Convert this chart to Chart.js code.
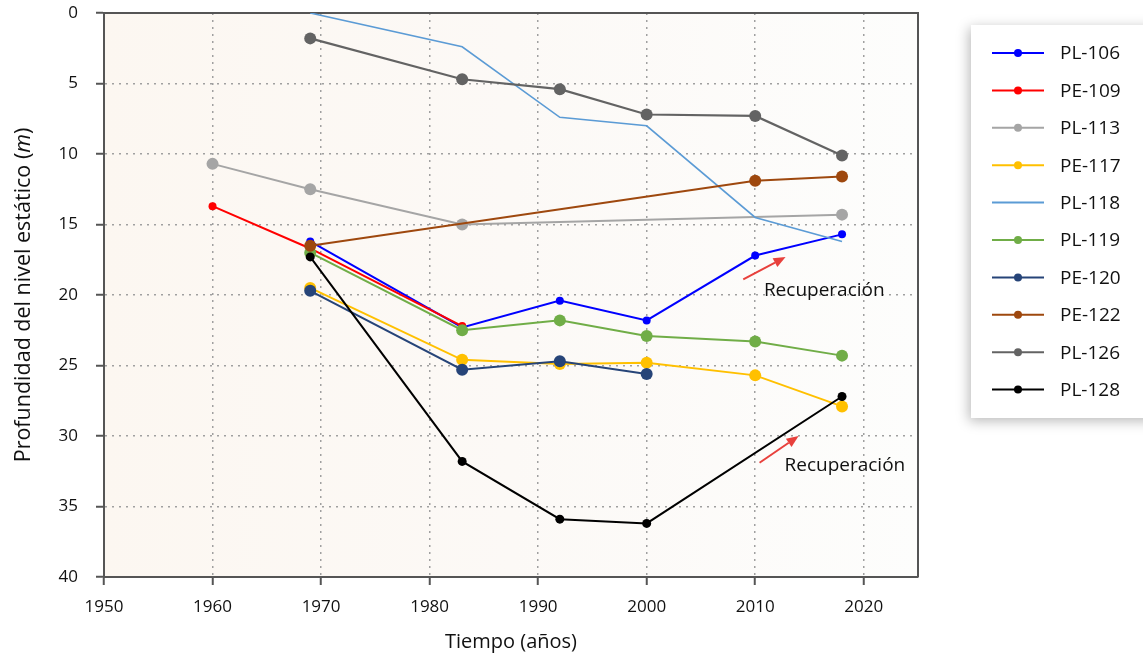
<!DOCTYPE html>
<html lang="es">
<head>
<meta charset="utf-8">
<title>Profundidad del nivel estático</title>
<script src="https://cdn.jsdelivr.net/npm/chart.js@4.4.1/dist/chart.umd.min.js"></script>
<style>
  html, body { margin: 0; padding: 0; background: #ffffff; }
  #contenedor { position: relative; width: 1143px; height: 661px; }
</style>
</head>
<body>
<div id="contenedor"><canvas id="grafico-nivel" width="1143" height="661"></canvas></div>
<script>
// Años de medición y profundidad del nivel estático (m) de cada pozo
var anios = [1960, 1969, 1983, 1992, 2000, 2010, 2018];
var pozos = ['PL-106', 'PE-109', 'PL-113', 'PE-117', 'PL-118', 'PL-119', 'PE-120', 'PE-122', 'PL-126', 'PL-128'];

var pl106 = [null, 16.2, 22.3, 20.4, 21.8, 17.2, 15.7];
var pe109 = [13.7, 16.7, 22.2, null, null, null, null];
var pl113 = [10.7, 12.5, 15.0, null, null, null, 14.3];
var pe117 = [null, 19.5, 24.6, 24.9, 24.8, 25.7, 27.9];
var pl118 = [null, 0.0, 2.4, 7.4, 8.0, 14.5, 16.2];
var pl119 = [null, 17.0, 22.5, 21.8, 22.9, 23.3, 24.3];
var pe120 = [null, 19.7, 25.3, 24.7, 25.6, null, null];
var pe122 = [null, 16.5, null, null, null, 11.9, 11.6];
var pl126 = [null, 1.8, 4.7, 5.4, 7.2, 7.3, 10.1];
var pl128 = [null, 17.3, 31.8, 35.9, 36.2, null, 27.2];

var series = [pl106, pe109, pl113, pe117, pl118, pl119, pe120, pe122, pl126, pl128];

// Ticks de los ejes
var ejeX = { min: 1950, max: 2025, paso: 10 };
var ejeY = { min: 0, max: 40, paso: 5 };

// Flechas de recuperación (año, profundidad)
var flechaDesde = [[2008.9, 18.9], [2010.4, 31.9]];
var flechaHasta = [[2012.8, 17.3], [2014.0, 30.0]];
var notaTexto = ['Recuperación', 'Recuperación'];
var notaPos = [[2010.8, 19.7], [2012.7, 32.1]];

var colores = ['#0000ff', '#ff0000', '#a5a5a5', '#ffc000', '#5b9bd5', '#70ad47', '#264478', '#9e480e', '#636363', '#000000'];
var radios = [4, 4, 6, 6, 0, 6, 6, 6, 6, 4.5];
var grosores = [2, 2, 2, 2, 1.6, 2, 2, 2, 2.2, 2];

var FUENTE = '"Open Sans", "Noto Sans", sans-serif';
var TEXTO = '#111111';

function puntos(valores) {
    var lista = [];
    for (var i = 0; i < anios.length; i++) {
        if (valores[i] !== null) lista.push({ x: anios[i], y: valores[i] });
    }
    return lista;
}

var datasets = [];
for (var i = 0; i < pozos.length; i++) {
    datasets.push({
        label: pozos[i],
        data: puntos(series[i]),
        borderColor: colores[i],
        backgroundColor: colores[i],
        pointBackgroundColor: colores[i],
        pointBorderColor: colores[i],
        pointBorderWidth: 0,
        pointRadius: radios[i],
        borderWidth: grosores[i],
        tension: 0,
        order: pozos.length - i   // los últimos quedan encima
    });
}

// Fondo del área de trazado
var fondoPlugin = {
    id: 'fondo',
    beforeDraw: function (chart) {
        var a = chart.chartArea;
        var ctx = chart.ctx;
        var g = ctx.createLinearGradient(a.left, 0, a.right, 0);
        g.addColorStop(0, '#fcf7f1');
        g.addColorStop(0.5, '#fcf9f6');
        g.addColorStop(1, '#fdfdfc');
        ctx.save();
        ctx.fillStyle = g;
        ctx.fillRect(a.left, a.top, a.right - a.left, a.bottom - a.top);
        ctx.restore();
    }
};

// Marco superior y derecho
var marcoPlugin = {
    id: 'marco',
    beforeDatasetsDraw: function (chart) {
        var a = chart.chartArea;
        var ctx = chart.ctx;
        ctx.save();
        ctx.strokeStyle = '#555555';
        ctx.lineWidth = 2;
        ctx.beginPath();
        ctx.moveTo(a.left, a.top);
        ctx.lineTo(a.right, a.top);
        ctx.lineTo(a.right, a.bottom);
        ctx.stroke();
        ctx.restore();
    }
};

// Flechas y textos de recuperación
var notasPlugin = {
    id: 'notas',
    afterDatasetsDraw: function (chart) {
        var ctx = chart.ctx;
        var sx = chart.scales.x, sy = chart.scales.y;
        ctx.save();
        for (var k = 0; k < flechaDesde.length; k++) {
            var x1 = sx.getPixelForValue(flechaDesde[k][0]);
            var y1 = sy.getPixelForValue(flechaDesde[k][1]);
            var x2 = sx.getPixelForValue(flechaHasta[k][0]);
            var y2 = sy.getPixelForValue(flechaHasta[k][1]);
            var ang = Math.atan2(y2 - y1, x2 - x1);
            var largo = 12, ancho = 5;
            var bx = x2 - largo * Math.cos(ang), by = y2 - largo * Math.sin(ang);
            ctx.strokeStyle = '#e8403c';
            ctx.fillStyle = '#e8403c';
            ctx.lineWidth = 2;
            ctx.beginPath();
            ctx.moveTo(x1, y1);
            ctx.lineTo(bx, by);
            ctx.stroke();
            ctx.beginPath();
            ctx.moveTo(x2, y2);
            ctx.lineTo(bx + ancho * Math.sin(ang), by - ancho * Math.cos(ang));
            ctx.lineTo(bx - ancho * Math.sin(ang), by + ancho * Math.cos(ang));
            ctx.closePath();
            ctx.fill();

            ctx.fillStyle = TEXTO;
            ctx.font = '19px ' + FUENTE;
            ctx.textAlign = 'left';
            ctx.textBaseline = 'middle';
            ctx.fillText(notaTexto[k], sx.getPixelForValue(notaPos[k][0]), sy.getPixelForValue(notaPos[k][1]));
        }
        ctx.restore();
    }
};

// Título del eje Y con la unidad en cursiva
var tituloYPlugin = {
    id: 'tituloY',
    afterDraw: function (chart) {
        var ctx = chart.ctx;
        var a = chart.chartArea;
        var partes = [['Profundidad del nivel estático (', 'normal'], ['m', 'italic'], [')', 'normal']];
        ctx.save();
        var total = 0;
        partes.forEach(function (p) {
            ctx.font = p[1] + ' 21.5px ' + FUENTE;
            total += ctx.measureText(p[0]).width;
        });
        ctx.translate(24, (a.top + a.bottom) / 2);
        ctx.rotate(-Math.PI / 2);
        ctx.fillStyle = TEXTO;
        ctx.textBaseline = 'middle';
        ctx.textAlign = 'left';
        var x = -total / 2;
        partes.forEach(function (p) {
            ctx.font = p[1] + ' 21.5px ' + FUENTE;
            ctx.fillText(p[0], x, 0);
            x += ctx.measureText(p[0]).width;
        });
        ctx.restore();
    }
};

// Leyenda en recuadro con sombra
var leyendaPlugin = {
    id: 'leyenda',
    afterDraw: function (chart) {
        var ctx = chart.ctx;
        ctx.save();
        ctx.shadowColor = 'rgba(0, 0, 0, 0.28)';
        ctx.shadowBlur = 12;
        ctx.shadowOffsetX = -2;
        ctx.shadowOffsetY = 3;
        ctx.fillStyle = '#ffffff';
        ctx.fillRect(971, 25, 200, 393);
        ctx.restore();

        ctx.save();
        chart.data.datasets.forEach(function (ds, i) {
            var y = 53 + i * 37.4;
            ctx.strokeStyle = ds.borderColor;
            ctx.lineWidth = 2;
            ctx.beginPath();
            ctx.moveTo(992, y);
            ctx.lineTo(1044, y);
            ctx.stroke();
            if (ds.pointRadius > 0) {
                ctx.fillStyle = ds.borderColor;
                ctx.beginPath();
                ctx.arc(1018, y, 4, 0, Math.PI * 2);
                ctx.fill();
            }
            ctx.fillStyle = TEXTO;
            ctx.font = '19px ' + FUENTE;
            ctx.textAlign = 'left';
            ctx.textBaseline = 'middle';
            ctx.fillText(ds.label, 1060, y + 1);
        });
        ctx.restore();
    }
};

var ctx = document.getElementById('grafico-nivel').getContext('2d');

var chart = new Chart(ctx, {
    type: 'line',
    data: { datasets: datasets },
    plugins: [fondoPlugin, marcoPlugin, notasPlugin, tituloYPlugin, leyendaPlugin],
    options: {
        responsive: false,
        animation: false,
        devicePixelRatio: 1,
        spanGaps: true,
        layout: {
            padding: { top: 13, right: 225, bottom: 0, left: 0 }
        },
        plugins: {
            legend: { display: false },
            tooltip: { enabled: false }
        },
        scales: {
            x: {
                type: 'linear',
                min: ejeX.min,
                max: ejeX.max,
                afterFit: function (scale) {
                    scale.height = 84;
                    scale.paddingLeft = 0;
                    scale.paddingRight = 0;
                },
                ticks: {
                    stepSize: ejeX.paso,
                    includeBounds: false,
                    maxRotation: 0,
                    padding: 12,
                    color: TEXTO,
                    font: { family: FUENTE, size: 17 },
                    callback: function (v) { return String(v); }
                },
                grid: {
                    color: '#a0a0a0',
                    lineWidth: 1.5,
                    drawTicks: true,
                    tickLength: 8,
                    tickColor: '#555555',
                    tickWidth: 2
                },
                border: { color: '#555555', width: 2, dash: [2, 5] },
                title: {
                    display: true,
                    text: 'Tiempo (años)',
                    color: TEXTO,
                    font: { family: FUENTE, size: 20 },
                    padding: { top: 0, bottom: 7 }
                }
            },
            y: {
                min: ejeY.min,
                max: ejeY.max,
                reverse: true,
                afterFit: function (scale) {
                    scale.width = 104;
                    scale.paddingTop = 0;
                    scale.paddingBottom = 0;
                },
                ticks: {
                    stepSize: ejeY.paso,
                    padding: 18,
                    color: TEXTO,
                    font: { family: FUENTE, size: 17 }
                },
                grid: {
                    color: '#a0a0a0',
                    lineWidth: 1.5,
                    drawTicks: true,
                    tickLength: 8,
                    tickColor: '#555555',
                    tickWidth: 2
                },
                border: { color: '#555555', width: 2, dash: [2, 5] },
                title: { display: false }
            }
        }
    }
});
</script>
</body>
</html>
